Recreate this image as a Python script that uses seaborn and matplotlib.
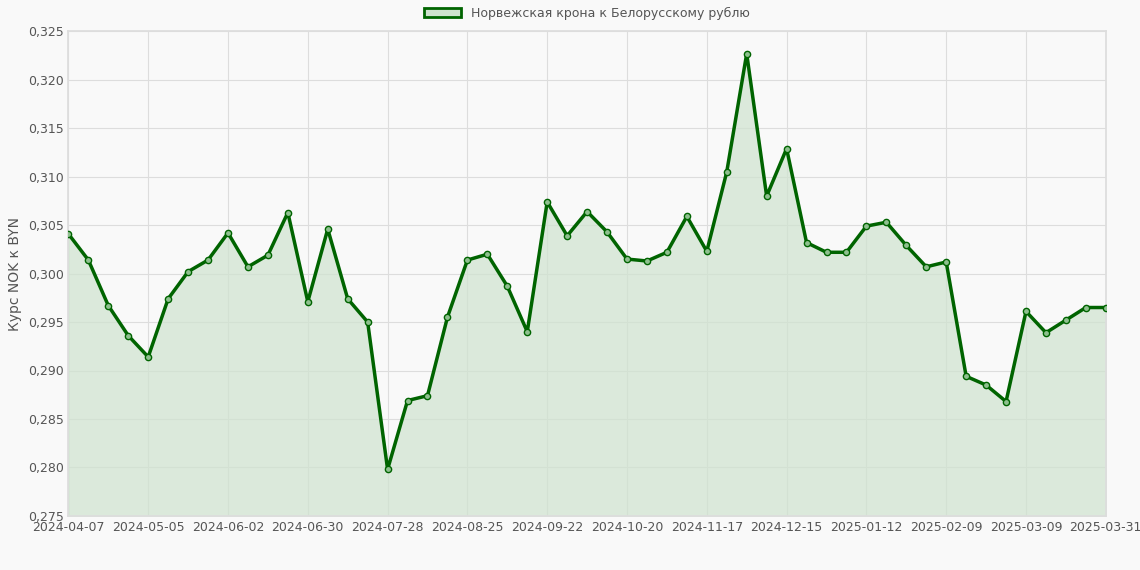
import matplotlib
matplotlib.use("Agg")
import matplotlib.pyplot as plt
from matplotlib.ticker import FuncFormatter
from matplotlib.patches import Patch
import seaborn as sns
import pandas as pd

values = [0.3041,0.3014,0.2967,0.2936,0.2914,0.2974,0.3002,0.3014,0.3042,0.3007,0.3019,0.3063,
          0.2971,0.3046,0.2974,0.2950,0.2798,0.2869,0.2874,0.2955,0.3014,0.3020,0.2987,0.2940,
          0.3074,0.3039,0.3064,0.3043,0.3015,0.3013,0.3022,0.3059,0.3023,0.3105,0.3227,0.3080,
          0.3129,0.3032,0.3022,0.3022,0.3049,0.3053,0.3029,0.3007,0.3012,0.2894,0.2885,0.2868,
          0.2961,0.2939,0.2952,0.2965,0.2965]
dates = [d.strftime("%Y-%m-%d") for d in pd.date_range("2024-04-07", periods=52, freq="7D")] + ["2025-03-31"]
tick_labels = ["2024-04-07","2024-05-05","2024-06-02","2024-06-30","2024-07-28","2024-08-25",
               "2024-09-22","2024-10-20","2024-11-17","2024-12-15","2025-01-12","2025-02-09",
               "2025-03-09","2025-03-31"]
label = "Норвежская крона к Белорусскому рублю"
df = pd.DataFrame({"pos": range(len(values)), "date": dates, "rate": values})

sns.set_theme(style="whitegrid")
plt.rcParams['font.family'] = ['DejaVu Sans']
fig, ax = plt.subplots(figsize=(11.4, 5.7), dpi=100)
fig.patch.set_facecolor("#f9f9f9")
ax.set_facecolor("#f9f9f9")
green = "#006400"
ax.fill_between(df["pos"], df["rate"], 0.275, color="#cfe3cf", alpha=0.7, zorder=1)
sns.lineplot(data=df, x="pos", y="rate", ax=ax, color=green, linewidth=2.5, zorder=3,
             marker="o", markersize=4.5, markerfacecolor="#8fc08f", markeredgecolor=green,
             markeredgewidth=1)
ax.set_ylim(0.275, 0.325)
ax.set_xlim(0, len(values) - 1)
ax.set_yticks([0.275 + 0.005*i for i in range(11)])
ax.yaxis.set_major_formatter(FuncFormatter(lambda v, p: f"{v:.3f}".replace(".", ",")))
ticks = [dates.index(t) for t in tick_labels]
ax.set_xticks(ticks)
ax.set_xticklabels(tick_labels)
ax.tick_params(labelsize=9, colors="#555555", length=0)
ax.set_xlabel("")
ax.set_ylabel("Курс NOK к BYN", fontsize=10, color="#555555")
ax.grid(color="#dddddd", linewidth=0.8)
for s in ax.spines.values():
    s.set_color("#dddddd")
ax.legend(handles=[Patch(facecolor="#cfe3cf", edgecolor=green, linewidth=2, label=label)],
          loc="lower center", bbox_to_anchor=(0.5, 1.0), frameon=False, fontsize=9,
          handlelength=3, labelcolor="#555555")
fig.subplots_adjust(left=0.06, right=0.97, top=0.945, bottom=0.095)
fig.savefig("out.png")
